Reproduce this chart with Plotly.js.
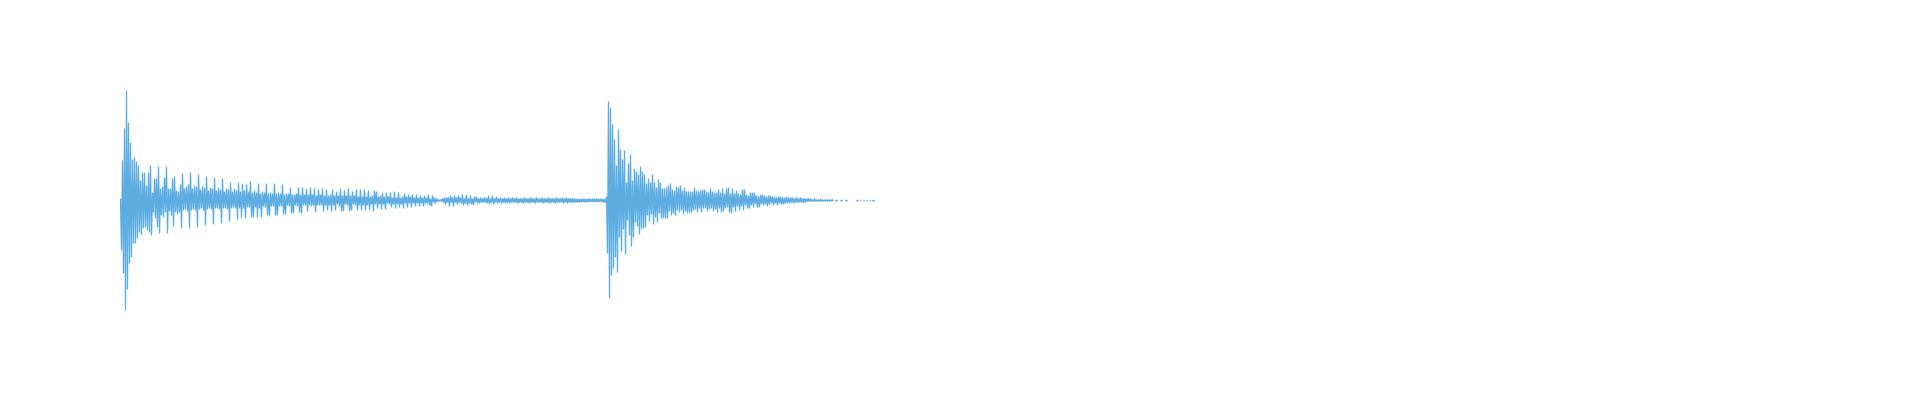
<!DOCTYPE html>
<html>
<head>
<meta charset="utf-8">
<script src="https://cdn.plot.ly/plotly-3.0.1.min.js"></script>
<style>html,body{margin:0;padding:0;background:#fff;}#chart{width:1920px;height:400px;}</style>
</head>
<body>
<div id="chart"></div>
<script>
// First strike: waveform samples (amplitude, one sample per step)
const strikeOne = [
2,-50,40,-73,72,-110,110,-89,78,-63,
58,-57,41,-43,43,-43,39,-38,35,-32,
20,-34,28,-28,28,-27,15,-30,28,-32,
35,-35,8,-12,22,-18,22,-27,34,-33,
12,-15,14,-17,23,-12,34,-33,12,-11,
12,-15,22,-26,24,-12,10,-14,9,-12,
16,-28,27,-10,12,-9,14,-11,16,-28,
28,-10,12,-9,15,-10,14,-27,26,-9,
11,-8,14,-10,13,-25,24,-9,10,-8,
13,-9,12,-24,23,-8,10,-8,13,-9,
11,-23,22,-8,9,-8,12,-9,11,-21,
18,-8,9,-7,12,-8,10,-19,18,-8,
9,-17,17,-8,10,-18,16,-7,9,-7,
19,-17,8,-17,10,-7,8,-17,17,-8,
7,-17,9,-6,8,-7,17,-15,7,-16,
8,-6,7,-6,17,-15,7,-15,8,-6,
7,-6,16,-14,6,-14,7,-5,7,-6,
13,-13,6,-13,6,-5,7,-6,13,-12,
6,-13,13,-5,6,-5,12,-11,6,-5,
13,-6,6,-5,12,-12,5,-5,11,-5,
6,-5,12,-11,5,-5,11,-10,5,-5,
6,-11,11,-5,5,-10,9,-4,5,-6,
12,-11,5,-11,10,-4,5,-5,12,-11,
5,-10,9,-4,5,-5,11,-10,4,-5,
11,-10,4,-5,11,-10,4,-5,10,-9,
4,-4,5,-11,10,-4,9,-8,4,-4,
5,-9,8,-4,4,-9,8,-3,4,-4,
8,-7,3,-4,9,-8,3,-4,8,-7,
3,-4,4,-8,7,-3,4,-7,6,-3,
4,-7,6,-3,3,-6,6,-3,3,-6,
5,-3,3,-6,5,-3,3,-3,6,-5,
2,-6,5,-2,3,-3,2,-1,1,-1,
1,-1,2,-2,3,-4,3,-2,3,-6,
5,-2,3,-6,5,-2,3,-4,5,-2,
3,-3,6,-5,2,-3,6,-5,2,-3,
5,-4,2,-5,4,-2,4,-3,2,-3,
3,-2,2,-2,3,-2,2,-3,5,-4,
2,-2,5,-4,2,-2,4,-3,2,-2,
3,-3,2,-2,3,-3,2,-2,3,-3,
2,-2,3,-2,2,-2,3,-3,2,-2,
2,-2,2,-3,3,-2,2,-2,2,-3,
3,-2,2,-2,2,-3,3,-2,2,-2,
2,-2,3,-3,2,-2,2,-2,3,-3,
2,-2,2,-2,2,-3,3,-2,2,-2,
2,-2,3,-3,2,-2,3,-3,2,-2,
2,-2,2,-2,2,-2,1.5,-2,1.5,-2,
1.5,-1.5,2,-1.5,1.5,-2,1.5,-1.5,2,-1.5,
1.5,-1.5,2,-1.5,1.5,-1.5,2,-1.5,1.5,-1.5,
2,-1.5,1.5,-2,1.5,-2
];

// Second strike: waveform samples (null = silent gap)
const strikeTwo = [
4,-53,99,-98,93,-75,76,-68,61,-57,
35,-72,71,-37,51,-51,41,-29,50,-54,
18,-20,37,-35,46,-46,20,-37,32,-22,
29,-26,26,-34,34,-28,29,-28,26,-27,
17,-15,22,-21,18,-14,26,-24,18,-17,
13,-22,21,-13,18,-18,12,-18,12,-18,
13,-18,15,-11,17,-15,11,-13,10,-15,
14,-10,13,-12,15,-10,10,-14,13,-11,
9,-13,9,-12,9,-12,9,-10,13,-9,
10,-12,9,-8,10,-12,11,-8,11,-8,
9,-11,8,-9,12,-8,9,-11,8,-9,
8,-12,11,-8,8,-12,12,-11,7,-8,
12,-7,13,-12,7,-13,12,-7,7,-11,
10,-6,7,-10,6,-6,11,-10,11,-5,
6,-8,5,-8,8,-5,8,-7,8,-4,
5,-7,4,-7,6,-4,6,-5,5,-4,
4,-6,5,-4,5,-3,4,-5,4,-3,
3,-5,4,-3,4,-4,3,-4,3,-3,
4,-3,3,-3,3,-2,3,-3,2,-2,
3,-2,2,-2,3,-2,2,-2,2,-2,
2,-1,2,-1,2,-1,1,-1,2,-1,
1,-1,1,-1,1,-0.5,0.5,-0.5,0.5,-0.5,
0.5,-0.5,0.5,-0.5,0.5,-0.5,0.5,-0.5,null,0.5,
-0.5,0.5,null,null,0.5,-0.5,0.5,null,null,0.5,
-0.5,0.5,null,null,null,null,null,null,null,null,
0.5,-0.5,0.5,null,0.5,-0.5,null,0.5,-0.5,null,
0.5,-0.5,null,0.5,-0.5,null,0.5,-0.5,0.5,null
];

const waveform = strikeOne.concat(strikeTwo);

const trace = {
  type: 'scatter',
  mode: 'lines',
  y: waveform,
  x0: 0,
  dx: 1,
  line: {color: '#5DADE2', width: 1.3},
  connectgaps: false,
  hoverinfo: 'skip',
  showlegend: false
};

const layout = {
  width: 1920,
  height: 400,
  margin: {l: 0, r: 0, t: 80, b: 80, pad: 0},
  paper_bgcolor: '#ffffff',
  plot_bgcolor: '#ffffff',
  xaxis: {visible: false, range: [-120.5, 1799.5], fixedrange: true},
  yaxis: {visible: false, range: [-119.5, 120.5], fixedrange: true},
  showlegend: false
};

Plotly.newPlot('chart', [trace], layout, {displayModeBar: false, staticPlot: true});
</script>
</body>
</html>
